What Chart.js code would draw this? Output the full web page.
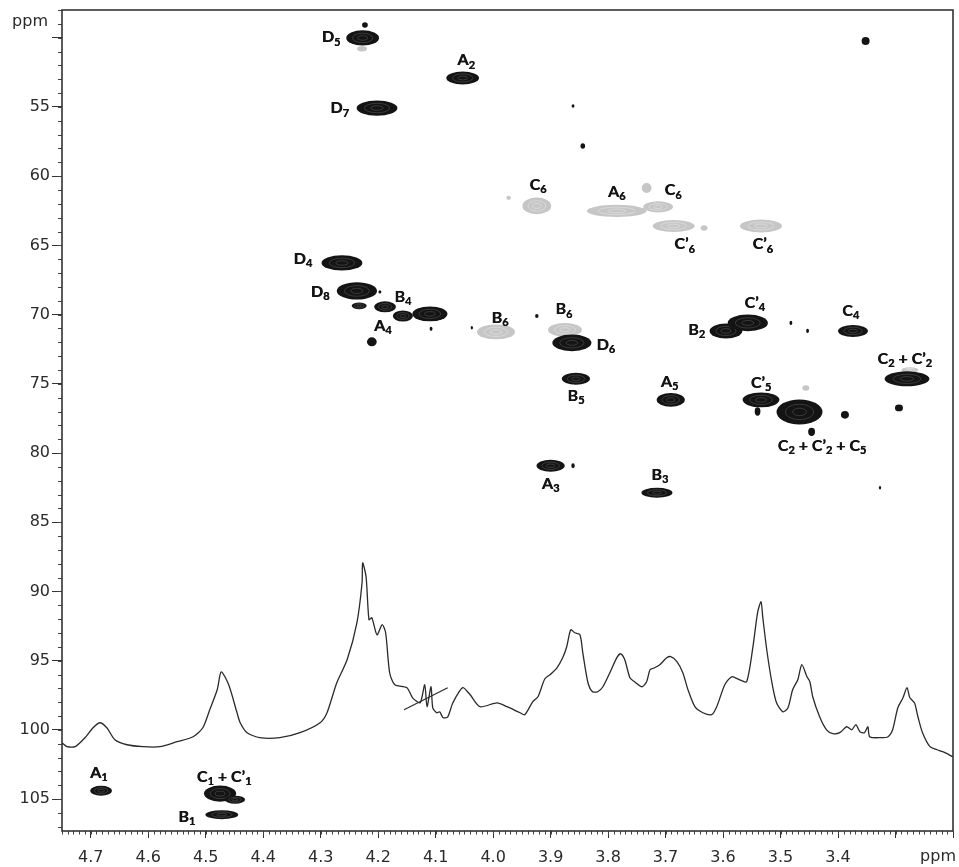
<!DOCTYPE html>
<html>
<head>
<meta charset="utf-8">
<script src="https://cdn.jsdelivr.net/npm/chart.js@4.4.1/dist/chart.umd.min.js"></script>
<style>
  html, body { margin: 0; padding: 0; background: #fff; }
  #wrap { position: relative; width: 959px; height: 867px; }
</style>
</head>
<body>
<div id="wrap"><canvas id="hsqc"></canvas></div>
<script>
// 1H projection trace (1H ppm, drawn against the 13C axis)
const specH = [4.750, 4.741, 4.727, 4.710, 4.696, 4.684, 4.672, 4.658, 4.637, 4.609,
  4.580, 4.550, 4.522, 4.505, 4.493, 4.480, 4.473, 4.460, 4.446, 4.440,
  4.428, 4.406, 4.371, 4.336, 4.301, 4.289, 4.272, 4.254, 4.237, 4.228,
  4.227, 4.221, 4.216, 4.211, 4.202, 4.193, 4.187, 4.180, 4.171, 4.150,
  4.140, 4.127, 4.119, 4.115, 4.108, 4.105, 4.098, 4.093, 4.087, 4.079,
  4.070, 4.053, 4.040, 4.023, 3.993, 3.976, 3.953, 3.945, 3.931, 3.922,
  3.910, 3.901, 3.889, 3.879, 3.872, 3.865, 3.858, 3.849, 3.844, 3.835,
  3.827, 3.818, 3.809, 3.797, 3.785, 3.778, 3.771, 3.762, 3.754, 3.741,
  3.733, 3.727, 3.719, 3.710, 3.698, 3.691, 3.680, 3.670, 3.661, 3.649,
  3.635, 3.620, 3.611, 3.597, 3.585, 3.571, 3.559, 3.548, 3.540, 3.534,
  3.531, 3.524, 3.515, 3.507, 3.496, 3.487, 3.479, 3.470, 3.463, 3.454,
  3.449, 3.444, 3.432, 3.420, 3.409, 3.397, 3.385, 3.376, 3.369, 3.362,
  3.354, 3.348, 3.345, 3.327, 3.313, 3.305, 3.296, 3.287, 3.280, 3.275,
  3.267, 3.261, 3.253, 3.240, 3.228, 3.218, 3.200];
const specC = [100.92, 101.21, 101.21, 100.56, 99.84, 99.48, 99.84, 100.71, 101.07, 101.21,
  101.21, 100.85, 100.49, 99.84, 98.54, 97.10, 95.80, 96.74, 98.69, 99.48,
  100.20, 100.56, 100.56, 100.20, 99.48, 98.76, 96.59, 94.93, 92.26, 89.37,
  87.93, 88.94, 92.04, 91.90, 93.13, 92.40, 92.98, 95.87, 96.74, 96.95,
  97.68, 98.04, 96.74, 98.32, 96.88, 98.40, 98.76, 98.69, 99.12, 99.05,
  98.04, 96.95, 97.46, 98.32, 98.04, 98.32, 98.76, 98.90, 97.96, 97.60,
  96.30, 96.01, 95.51, 94.79, 93.99, 92.77, 92.98, 93.13, 94.43, 96.59,
  97.24, 97.24, 96.88, 95.87, 94.79, 94.50, 94.93, 96.23, 96.52, 96.88,
  96.52, 95.65, 95.51, 95.29, 94.79, 94.71, 95.08, 95.87, 97.10, 98.32,
  98.76, 98.90, 98.32, 96.74, 96.16, 96.38, 96.52, 93.99, 91.54, 90.74,
  91.83, 94.21, 96.59, 98.04, 98.69, 98.40, 97.10, 96.38, 95.29, 96.16,
  96.52, 97.60, 99.05, 99.99, 100.27, 100.20, 99.77, 99.99, 99.62, 100.13,
  100.20, 99.77, 100.49, 100.56, 100.49, 99.99, 98.40, 97.68, 96.95, 97.68,
  98.04, 99.05, 100.20, 101.21, 101.43, 101.57, 101.94];

// integral-like slash across the trace near 4.1 ppm
const slashH = [4.155, 4.079];
const slashC = [98.54, 96.95];

// positive (CH / CH3) cross peaks: 1H, 13C, 1H spread, 13C spread
const posH = [4.227, 4.053, 4.202, 4.263, 4.237, 4.233, 4.188, 4.157, 4.110, 4.211,
  3.863, 3.856, 3.691, 3.900, 3.715, 3.595, 3.557, 3.374, 3.280, 3.534,
  3.540, 3.467, 4.682, 4.475, 4.449, 4.472,
  4.223, 3.861, 3.844, 3.352, 4.197, 4.108, 4.037, 3.924, 3.861, 3.446,
  3.388, 3.294, 3.482, 3.453, 3.327];
const posC = [50.02, 52.91, 55.08, 66.27, 68.29, 69.37, 69.44, 70.10, 69.95, 71.97,
  72.04, 74.64, 76.16, 80.92, 82.87, 71.18, 70.60, 71.18, 74.64, 76.16,
  77.00, 77.03, 104.39, 104.60, 105.04, 106.12,
  49.08, 54.93, 57.82, 50.24, 68.36, 71.03, 70.95, 70.10, 80.92, 78.47,
  77.24, 76.74, 70.60, 71.18, 82.50];
const posDH = [0.057, 0.057, 0.071, 0.071, 0.070, 0.026, 0.038, 0.035, 0.061, 0.017,
  0.068, 0.049, 0.049, 0.049, 0.054, 0.057, 0.070, 0.052, 0.078, 0.064,
  0.010, 0.080, 0.038, 0.056, 0.035, 0.057,
  0.010, 0.005, 0.008, 0.014, 0.005, 0.005, 0.004, 0.006, 0.006, 0.012,
  0.014, 0.014, 0.005, 0.005, 0.004];
const posDC = [1.10, 0.94, 1.10, 1.10, 1.25, 0.50, 0.80, 0.80, 1.08, 0.65,
  1.20, 0.87, 1.00, 0.87, 0.72, 1.08, 1.20, 0.87, 1.08, 1.08,
  0.60, 1.80, 0.72, 1.16, 0.58, 0.65,
  0.40, 0.25, 0.40, 0.58, 0.25, 0.30, 0.25, 0.30, 0.35, 0.60,
  0.55, 0.50, 0.30, 0.30, 0.25];

// negative (CH2) cross peaks
const negH = [3.924, 3.785, 3.713, 3.733, 3.686, 3.633, 3.534, 3.995, 3.875, 4.228, 3.456, 3.275, 3.973];
const negC = [62.15, 62.51, 62.22, 60.85, 63.60, 63.74, 63.60, 71.25, 71.10, 50.80, 75.30, 74.00, 61.57];
const negDH = [0.050, 0.104, 0.052, 0.017, 0.073, 0.012, 0.073, 0.066, 0.059, 0.017, 0.012, 0.030, 0.008];
const negDC = [1.20, 0.87, 0.80, 0.72, 0.87, 0.40, 0.94, 1.08, 1.00, 0.40, 0.40, 0.40, 0.30];

// assignments ("_" marks a subscript character)
const labelText = ['D_5', 'A_2', 'D_7', 'C_6', 'A_6', 'C_6', 'C’_6', 'C’_6', 'D_4', 'D_8',
  'B_4', 'A_4', 'B_6', 'B_6', 'D_6', 'B_5', 'A_5', 'A_3', 'B_3', 'B_2',
  'C’_4', 'C_4', 'C_2 + C’_2', 'C’_5', 'C_2 + C’_2 + C_5', 'A_1', 'C_1 + C’_1', 'B_1'];
const labelH = [4.282, 4.047, 4.267, 3.922, 3.785, 3.687, 3.667, 3.531, 4.331, 4.301,
  4.157, 4.192, 3.988, 3.877, 3.804, 3.856, 3.693, 3.900, 3.710, 3.646,
  3.545, 3.378, 3.284, 3.534, 3.428, 4.686, 4.468, 4.533];
const labelC = [49.95, 51.61, 55.08, 60.60, 61.14, 61.00, 64.90, 64.90, 65.98, 68.36,
  68.72, 70.82, 70.24, 69.60, 72.19, 75.87, 74.86, 82.22, 81.57, 71.10,
  69.15, 69.73, 73.20, 74.93, 79.48, 103.10, 103.38, 106.27];

const xMajor = [4.7, 4.6, 4.5, 4.4, 4.3, 4.2, 4.1, 4.0, 3.9, 3.8, 3.7, 3.6, 3.5, 3.4];
const yMajor = [55, 60, 65, 70, 75, 80, 85, 90, 95, 100, 105];

const tickFont = { family: '"DejaVu Sans", sans-serif', size: 16 };

function peakPoints(h, c, dh, dc) {
  return h.map((v, i) => ({ x: v, y: c[i], dh: dh[i], dc: dc[i] }));
}

function drawPeaks(chart, idx, fill, ring) {
  const { ctx } = chart;
  const xs = chart.scales.x, ys = chart.scales.y;
  chart.data.datasets[idx].data.forEach(p => {
    const cx = xs.getPixelForValue(p.x), cy = ys.getPixelForValue(p.y);
    const rx = Math.abs(xs.getPixelForValue(p.x + p.dh / 2) - cx);
    const ry = Math.abs(ys.getPixelForValue(p.y + p.dc / 2) - cy);
    ctx.fillStyle = fill;
    ctx.beginPath();
    ctx.ellipse(cx, cy, rx, ry, 0, 0, Math.PI * 2);
    ctx.fill();
    if (rx > 6) {
      // faint inner contour levels
      ctx.strokeStyle = ring;
      ctx.lineWidth = 0.7;
      [0.62, 0.3].forEach(k => {
        ctx.beginPath();
        ctx.ellipse(cx, cy, rx * k, ry * k, 0, 0, Math.PI * 2);
        ctx.stroke();
      });
    }
  });
}

const peakPlugin = {
  id: 'peaks',
  afterDatasetsDraw(chart) {
    const a = chart.chartArea, ctx = chart.ctx;
    ctx.save();
    ctx.beginPath();
    ctx.rect(a.left, a.top, a.right - a.left, a.bottom - a.top);
    ctx.clip();
    drawPeaks(chart, 3, '#c6c6c6', 'rgba(255,255,255,0.45)');
    drawPeaks(chart, 2, '#141414', 'rgba(255,255,255,0.22)');
    ctx.restore();
  }
};

function drawLabel(ctx, text, x, y) {
  const big = 'bold 16px Lato, "Open Sans", sans-serif';
  const small = 'bold 11px Lato, "Open Sans", sans-serif';
  const parts = [];
  for (let i = 0; i < text.length; i++) {
    if (text[i] === '_') { parts.push({ t: text[i + 1], sub: true }); i++; }
    else parts.push({ t: text[i], sub: false });
  }
  let w = 0;
  parts.forEach(p => { ctx.font = p.sub ? small : big; p.w = ctx.measureText(p.t).width; w += p.w; });
  let px = x - w / 2;
  ctx.textAlign = 'left';
  ctx.textBaseline = 'middle';
  parts.forEach(p => {
    ctx.font = p.sub ? small : big;
    ctx.fillText(p.t, px, p.sub ? y + 5 : y);
    // slight overdraw to thicken strokes like the reference print
    ctx.fillText(p.t, px + 0.4, p.sub ? y + 5 : y);
    px += p.w;
  });
}

const decorPlugin = {
  id: 'decor',
  afterDraw(chart) {
    const { ctx, chartArea: a } = chart;
    const xs = chart.scales.x, ys = chart.scales.y;
    ctx.save();
    // minor ticks
    ctx.strokeStyle = '#444';
    ctx.lineWidth = 1;
    ctx.beginPath();
    for (let i = 321; i <= 475; i++) {
      const px = Math.round(xs.getPixelForValue(i / 100)) + 0.5;
      ctx.moveTo(px, a.bottom);
      ctx.lineTo(px, a.bottom + 3.5);
    }
    for (let v = 48; v <= 107; v++) {
      const py = Math.round(ys.getPixelForValue(v)) + 0.5;
      ctx.moveTo(a.left, py);
      ctx.lineTo(a.left - 4, py);
    }
    ctx.stroke();
    // frame
    ctx.lineWidth = 1.6;
    ctx.strokeStyle = '#333';
    ctx.strokeRect(a.left, a.top, a.right - a.left, a.bottom - a.top);
    // axis units
    ctx.fillStyle = '#2b2b2b';
    ctx.font = '16px "DejaVu Sans", sans-serif';
    ctx.textBaseline = 'middle';
    ctx.textAlign = 'right';
    ctx.fillText('ppm', 48, 22);
    ctx.fillText('ppm', 956, 857);
    // assignments
    ctx.fillStyle = '#141414';
    labelText.forEach((t, i) => {
      drawLabel(ctx, t, xs.getPixelForValue(labelH[i]), ys.getPixelForValue(labelC[i]));
    });
    ctx.restore();
  }
};

new Chart(document.getElementById('hsqc'), {
  type: 'scatter',
  data: {
    datasets: [
      {
        type: 'line',
        label: '1H projection',
        data: specH.map((h, i) => ({ x: h, y: specC[i] })),
        borderColor: '#2a2a2a',
        borderWidth: 1.3,
        pointRadius: 0,
        tension: 0.25,
        fill: false
      },
      {
        type: 'line',
        label: 'slash',
        data: slashH.map((h, i) => ({ x: h, y: slashC[i] })),
        borderColor: '#2a2a2a',
        borderWidth: 1.2,
        pointRadius: 0
      },
      { label: 'positive', data: peakPoints(posH, posC, posDH, posDC), pointRadius: 0 },
      { label: 'negative', data: peakPoints(negH, negC, negDH, negDC), pointRadius: 0 }
    ]
  },
  options: {
    responsive: true,
    maintainAspectRatio: false,
    animation: false,
    layout: { padding: { top: 10, right: 6, left: 0, bottom: 0 } },
    plugins: { legend: { display: false }, tooltip: { enabled: false } },
    scales: {
      x: {
        type: 'linear',
        min: 3.2,
        max: 4.75,
        reverse: true,
        afterFit: s => { s.height = 36; s.paddingLeft = 0; s.paddingRight = 0; },
        border: { display: false },
        grid: { drawOnChartArea: false, tickLength: 7, tickColor: '#333', tickWidth: 1 },
        ticks: {
          stepSize: 0.1,
          includeBounds: false,
          autoSkip: false,
          maxRotation: 0,
          padding: 10,
          color: '#2b2b2b',
          font: tickFont,
          callback: v => {
            const m = xMajor.find(t => Math.abs(t - v) < 1e-6);
            return m === undefined ? '' : m.toFixed(1);
          }
        }
      },
      y: {
        type: 'linear',
        min: 48,
        max: 107.3,
        reverse: true,
        afterFit: s => { s.width = 62; s.paddingTop = 0; s.paddingBottom = 0; },
        border: { display: false },
        grid: { drawOnChartArea: false, tickLength: 10, tickColor: '#333', tickWidth: 1 },
        ticks: {
          stepSize: 5,
          includeBounds: false,
          autoSkip: false,
          padding: 2,
          color: '#2b2b2b',
          font: tickFont,
          callback: v => (yMajor.includes(v) ? String(v) : '')
        }
      }
    }
  },
  plugins: [peakPlugin, decorPlugin]
});
</script>
</body>
</html>
